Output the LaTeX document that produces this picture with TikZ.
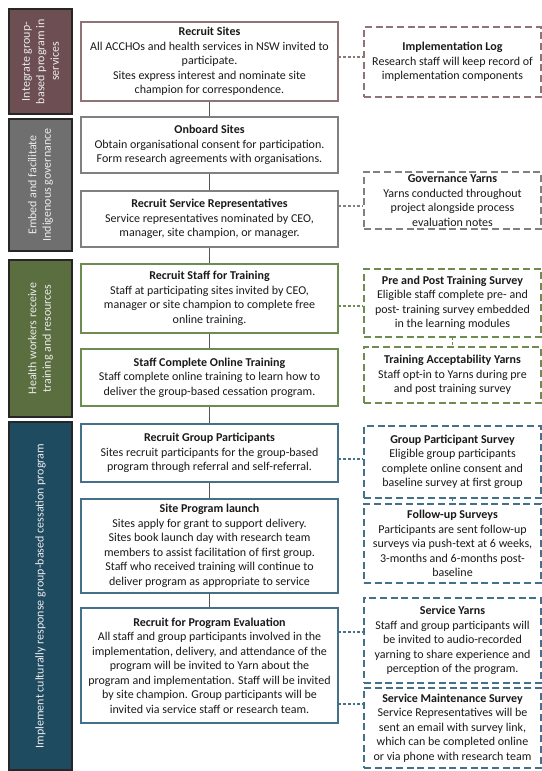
\documentclass[tikz,border=0pt]{standalone}
\usepackage{fontspec}
\setmainfont{Carlito}
\usetikzlibrary{fit}
\definecolor{maroonbar}{HTML}{6D4E53}
\definecolor{maroonline}{HTML}{8E7377}
\definecolor{graybar}{HTML}{6F6F6F}
\definecolor{grayline}{HTML}{808080}
\definecolor{greenbar}{HTML}{5A6E3F}
\definecolor{greenline}{HTML}{6E8B51}
\definecolor{tealbar}{HTML}{1F4B61}
\definecolor{tealline}{HTML}{44708A}
\definecolor{barline}{HTML}{262626}
\definecolor{flowc}{HTML}{555555}
\definecolor{txtc}{HTML}{1A1A1A}
\newcommand\dgfont{\fontsize{9pt}{10.9pt}\selectfont}
\begin{document}
\begin{tikzpicture}[x=0.75pt,y=-0.75pt,
  mainbox/.style={draw=#1, line width=1pt, fill=white, inner sep=0pt},
  sidebox/.style={draw=#1, line width=1pt, dash pattern=on 5.2pt off 2.8pt, fill=white, inner sep=0pt},
  boxtext/.style={align=center, font=\dgfont, text=txtc, inner sep=0pt},
  secbar/.style={draw=barline, fill=#1, line width=0.8pt, inner sep=0pt},
  bartext/.style={rotate=90, align=center, font=\dgfont, text=white!92!black, inner sep=0pt},
  dotconn/.style={draw=#1, line width=0.8pt, dash pattern=on 2pt off 1.5pt},
  flowline/.style={draw=flowc, line width=0.8pt}]
\useasboundingbox (0,0) rectangle (542,771);

% section bars
\node[secbar=maroonbar, fit={(9,9) (72,114)}] (b1) {};
\node[secbar=graybar, fit={(9,119) (72,251)}] (b2) {};
\node[secbar=greenbar, fit={(9,260) (72,417)}] (b3) {};
\node[secbar=tealbar, fit={(9,422) (72,770)}] (b4) {};
\node[bartext] (t1) at (b1.center) {Integrate group-\\based program in\\services};
\node[bartext] (t2) at (b2.center) {Embed and facilitate\\Indigenous governance};
\node[bartext] (t3) at (b3.center) {Health workers receive\\training and resources};
\node[bartext] (t4) at (b4.center) {Implement culturally response group-based cessation program};

% main boxes
\node[mainbox=maroonline, fit={(81,22) (338,101)}] (m1) {};
\node[mainbox=grayline, fit={(81,117) (338,173)}] (m2) {};
\node[mainbox=grayline, fit={(81,191) (338,247)}] (m3) {};
\node[mainbox=greenline, fit={(81,264) (338,333)}] (m4) {};
\node[mainbox=greenline, fit={(81,349) (338,406)}] (m5) {};
\node[mainbox=tealline, fit={(81,424) (338,482)}] (m6) {};
\node[mainbox=tealline, fit={(81,499) (338,593)}] (m7) {};
\node[mainbox=tealline, fit={(81,608) (338,723)}] (m8) {};
\node[boxtext] (m1t) at (m1.center) {\textbf{Recruit Sites}\\All ACCHOs and health services in NSW invited to\\participate.\\Sites express interest and nominate site\\champion for correspondence.};
\node[boxtext] (m2t) at (m2.center) {\textbf{Onboard Sites}\\Obtain organisational consent for participation.\\Form research agreements with organisations.};
\node[boxtext] (m3t) at (m3.center) {\textbf{Recruit Service Representatives}\\Service representatives nominated by CEO,\\manager, site champion, or manager.};
\node[boxtext] (m4t) at (m4.center) {\textbf{Recruit Staff for Training}\\Staff at participating sites invited by CEO,\\manager or site champion to complete free\\online training.};
\node[boxtext] (m5t) at (m5.center) {\textbf{Staff Complete Online Training}\\Staff complete online training to learn how to\\deliver the group-based cessation program.};
\node[boxtext] (m6t) at (m6.center) {\textbf{Recruit Group Participants}\\Sites recruit participants for the group-based\\program through referral and self-referral.};
\node[boxtext] (m7t) at (m7.center) {\textbf{Site Program launch}\\Sites apply for grant to support delivery.\\Sites book launch day with research team\\members to assist facilitation of first group.\\Staff who received training will continue to\\deliver program as appropriate to service};
\node[boxtext] (m8t) at (m8.center) {\textbf{Recruit for Program Evaluation}\\All staff and group participants involved in the\\implementation, delivery, and attendance of the\\program will be invited to Yarn about the\\program and implementation. Staff will be invited\\by site champion. Group participants will be\\invited via service staff or research team.};

% side boxes
\node[sidebox=maroonline, fit={(364,27) (541,97)}] (s1) {};
\node[sidebox=grayline, fit={(364,172) (541,229)}] (s2) {};
\node[sidebox=greenline, fit={(364,269) (541,337)}] (s3) {};
\node[sidebox=greenline, fit={(364,347) (541,403)}] (s4) {};
\node[sidebox=tealline, fit={(364,426) (541,498)}] (s5) {};
\node[sidebox=tealline, fit={(364,504) (541,583)}] (s6) {};
\node[sidebox=tealline, fit={(364,598) (541,683)}] (s7) {};
\node[sidebox=tealline, fit={(364,688) (541,768)}] (s8) {};
\node[boxtext] (s1t) at (s1.center) {\textbf{Implementation Log}\\Research staff will keep record of\\implementation components};
\node[boxtext] (s2t) at (s2.center) {\textbf{Governance Yarns}\\Yarns conducted throughout\\project alongside process\\evaluation notes};
\node[boxtext] (s3t) at (s3.center) {\textbf{Pre and Post Training Survey}\\Eligible staff complete pre- and\\post- training survey embedded\\in the learning modules};
\node[boxtext] (s4t) at (s4.center) {\textbf{Training Acceptability Yarns}\\Staff opt-in to Yarns during pre\\and post training survey};
\node[boxtext] (s5t) at (s5.center) {\textbf{Group Participant Survey}\\Eligible group participants\\complete online consent and\\baseline survey at first group};
\node[boxtext] (s6t) at (s6.center) {\textbf{Follow-up Surveys}\\Participants are sent follow-up\\surveys via push-text at 6 weeks,\\3-months and 6-months post-\\baseline};
\node[boxtext] (s7t) at (s7.center) {\textbf{Service Yarns}\\Staff and group participants will\\be invited to audio-recorded\\yarning to share experience and\\perception of the program.};
\node[boxtext] (s8t) at (s8.center) {\textbf{Service Maintenance Survey}\\Service Representatives will be\\sent an email with survey link,\\which can be completed online\\or via phone with research team};

% main flow
\draw[flowline] (m1) -- (m2);
\draw[flowline] (m2) -- (m3);
\draw[flowline] (m3) -- (m4);
\draw[flowline] (m4) -- (m5);
\draw[flowline] (m5) -- (m6);
\draw[flowline] (m6) -- (m7);
\draw[flowline] (m7) -- (m8);

% side connectors
\coordinate (y1) at (0,57);
\coordinate (y2) at (0,206);
\coordinate (y3) at (0,306);
\coordinate (y5) at (0,459);
\coordinate (y7) at (0,632);
\coordinate (y8) at (0,704);
\draw[dotconn=maroonline] (m1.east |- y1) -- (s1.west |- y1);
\draw[dotconn=grayline] (m3.east |- y2) -- (s2.west |- y2);
\draw[dotconn=greenline] (m4.east |- y3) -- (s3.west |- y3);
\draw[dotconn=greenline] (s3) -- (s4);
\draw[dotconn=tealline] (m6.east |- y5) -- (s5.west |- y5);
\draw[dotconn=tealline] (s5) -- (s6);
\draw[dotconn=tealline] (m8.east |- y7) -- (s7.west |- y7);
\draw[dotconn=tealline] (m8.east |- y8) -- (s8.west |- y8);
\end{tikzpicture}
\end{document}
